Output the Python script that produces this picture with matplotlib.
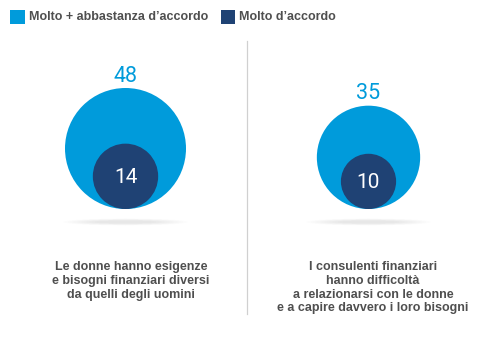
import matplotlib.pyplot as plt
import numpy as np
from matplotlib.patches import Circle, Ellipse, Rectangle

plt.rcParams['font.family'] = ['Liberation Sans', 'DejaVu Sans']

# data
totals = [48, 35]            # molto + abbastanza d'accordo
molto = [14, 10]             # molto d'accordo
labels = ["Le donne hanno esigenze\ne bisogni finanziari diversi\nda quelli degli uomini",
          "I consulenti finanziari\nhanno difficoltà\na relazionarsi con le donne\ne a capire davvero i loro bisogni"]
legend_labels = ["Molto + abbastanza d’accordo", "Molto d’accordo"]

light = '#009bdb'
dark = '#1f4274'
grey = '#4f4f4f'

fig = plt.figure(figsize=(4.98, 3.39), dpi=100)
ax = fig.add_axes([0, 0, 1, 1])
ax.set_xlim(0, 498)
ax.set_ylim(339, 0)
ax.set_aspect('equal')
ax.axis('off')

rmax = 60.5
base_y = 209          # circles touch the same bottom line
centers_x = [125.5, 368.5]
text_x = [131, 373]

for i in range(2):
    cx = centers_x[i]
    R = rmax * np.sqrt(totals[i] / totals[0])
    r = rmax * np.sqrt(molto[i] / totals[0])
    # soft shadow
    for k in range(8):
        ax.add_patch(Ellipse((cx, base_y + 13), 125 - k * 9, 7 - k * 0.6,
                             color='#000000', alpha=0.011, lw=0))
    ax.add_patch(Circle((cx, base_y - R), R, color=light, lw=0))
    ax.add_patch(Circle((cx, base_y - r), r, color=dark, lw=0))
    ax.text(cx, base_y - 2 * R - 12, str(totals[i]), color=light, fontsize=15.5,
            ha='center', va='center', family='Roboto')
    ax.text(cx, base_y - r + 1.5, str(molto[i]), color='white', fontsize=15,
            ha='center', va='center', family='Roboto')
    ax.text(text_x[i], 261, labels[i], color=grey, fontsize=9, fontweight='bold',
            ha='center', va='top', linespacing=1.2)

# divider
ax.plot([247, 247], [41, 314], color='#d0d0d0', lw=0.9)

# legend
ax.add_patch(Rectangle((10, 10), 15, 14, color=light, lw=0))
ax.text(29, 17, legend_labels[0], color=grey, fontsize=9, fontweight='bold', va='center')
ax.add_patch(Rectangle((221, 10), 14, 14, color=dark, lw=0))
ax.text(239, 17, legend_labels[1], color=grey, fontsize=9, fontweight='bold', va='center')

fig.savefig('out.png', dpi=100)
